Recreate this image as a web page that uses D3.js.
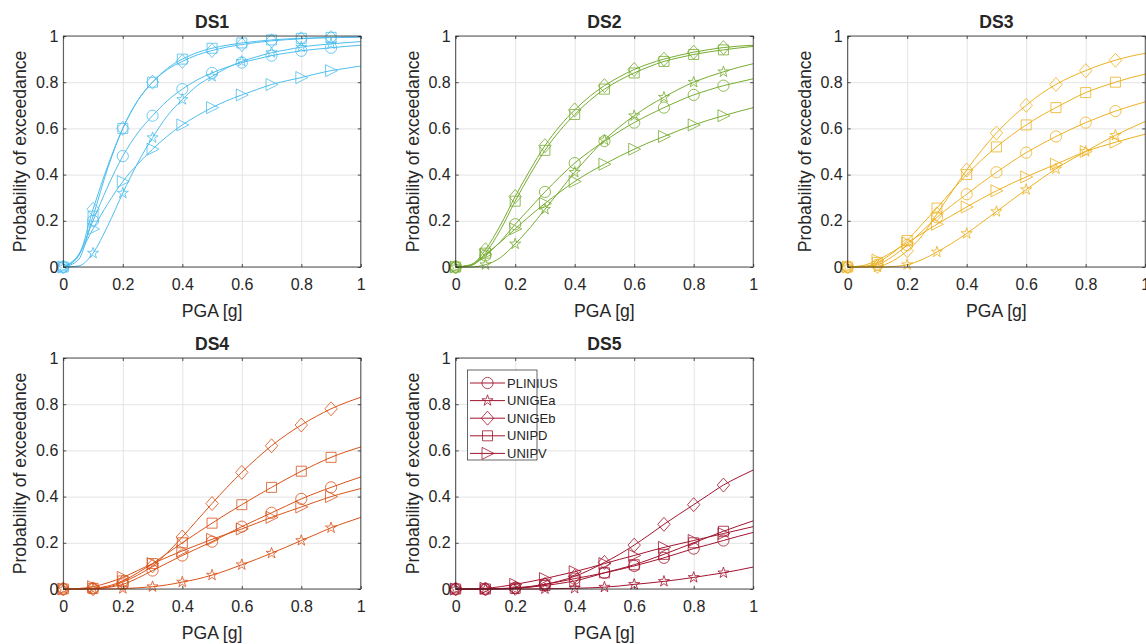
<!DOCTYPE html>
<html><head><meta charset="utf-8">
<script src="https://cdn.jsdelivr.net/npm/d3@7"></script>
<style>
body{margin:0;background:#fff}
svg{display:block}
text{font-family:"Liberation Sans",Arial,Helvetica,sans-serif;fill:#262626}
</style>
</head><body>
<svg id="chart" width="1146" height="644"></svg>
<script>
// ---------------- DATA ----------------
const pga = [0,0.05,0.1,0.15,0.2,0.25,0.3,0.35,0.4,0.45,0.5,0.55,0.6,0.65,0.7,0.75,0.8,0.85,0.9,0.95,1];
const markerPga = [0,0.1,0.2,0.3,0.4,0.5,0.6,0.7,0.8,0.9];
const axisTicks = [0,0.2,0.4,0.6,0.8,1];
const tickLabels = ["0","0.2","0.4","0.6","0.8","1"];
const models = ["PLINIUS","UNIGEa","UNIGEb","UNIPD","UNIPV"];
const dsTitles = ["DS1","DS2","DS3","DS4","DS5"];
const xLabel = "PGA [g]";
const yLabel = "Probability of exceedance";

// series in the order of `models`
const ds1 = [
  [0,0.05,0.20,0.35,0.48,0.58,0.655,0.72,0.77,0.81,0.84,0.865,0.885,0.90,0.915,0.926,0.936,0.943,0.949,0.955,0.96],
  [0,0.004,0.06,0.18,0.32,0.45,0.56,0.655,0.725,0.785,0.825,0.862,0.89,0.91,0.928,0.94,0.952,0.96,0.966,0.971,0.976],
  [0,0.045,0.25,0.44,0.60,0.72,0.80,0.855,0.89,0.918,0.937,0.952,0.963,0.972,0.979,0.984,0.988,0.991,0.993,0.994,0.995],
  [0,0.03,0.22,0.43,0.60,0.72,0.80,0.86,0.90,0.928,0.947,0.96,0.97,0.977,0.983,0.987,0.99,0.992,0.994,0.995,0.996],
  [0,0.05,0.165,0.275,0.37,0.445,0.51,0.567,0.615,0.655,0.69,0.72,0.745,0.768,0.79,0.806,0.82,0.836,0.85,0.86,0.87]
];
const ds2 = [
  [0,0.007,0.05,0.11,0.185,0.255,0.325,0.39,0.45,0.5,0.545,0.587,0.625,0.659,0.69,0.719,0.745,0.766,0.785,0.8,0.815],
  [0,0,0.01,0.04,0.1,0.17,0.25,0.33,0.41,0.483,0.55,0.606,0.655,0.698,0.735,0.77,0.8,0.824,0.845,0.864,0.88],
  [0,0.008,0.075,0.18,0.305,0.42,0.525,0.61,0.68,0.738,0.785,0.823,0.855,0.88,0.9,0.916,0.93,0.941,0.95,0.956,0.96],
  [0,0.006,0.06,0.16,0.285,0.40,0.505,0.59,0.66,0.72,0.77,0.808,0.84,0.867,0.89,0.906,0.92,0.931,0.94,0.948,0.955],
  [0,0.01,0.055,0.107,0.165,0.222,0.275,0.324,0.37,0.41,0.445,0.479,0.51,0.539,0.565,0.591,0.615,0.636,0.655,0.673,0.69]
];
const ds3 = [
  [0,0.001,0.01,0.045,0.095,0.155,0.215,0.267,0.315,0.364,0.41,0.454,0.495,0.531,0.565,0.596,0.625,0.651,0.675,0.696,0.715],
  [0,0,0,0.002,0.01,0.032,0.065,0.102,0.145,0.192,0.24,0.288,0.335,0.381,0.425,0.464,0.5,0.536,0.57,0.601,0.63],
  [0,0,0.003,0.025,0.07,0.135,0.23,0.325,0.42,0.505,0.58,0.645,0.70,0.75,0.79,0.823,0.85,0.875,0.895,0.912,0.925],
  [0,0.002,0.02,0.06,0.115,0.185,0.255,0.33,0.40,0.463,0.52,0.57,0.615,0.655,0.69,0.724,0.755,0.779,0.8,0.819,0.835],
  [0,0.006,0.03,0.065,0.105,0.145,0.185,0.223,0.26,0.296,0.33,0.361,0.39,0.418,0.445,0.473,0.5,0.521,0.54,0.558,0.575]
];
const ds4 = [
  [0,0,0.002,0.007,0.02,0.047,0.08,0.113,0.145,0.175,0.205,0.238,0.27,0.3,0.33,0.36,0.39,0.416,0.44,0.463,0.485],
  [0,0,0,0,0.002,0.005,0.01,0.018,0.03,0.043,0.06,0.081,0.105,0.129,0.155,0.182,0.21,0.237,0.265,0.288,0.31],
  [0,0,0.001,0.008,0.03,0.06,0.1,0.158,0.225,0.298,0.37,0.44,0.505,0.565,0.62,0.668,0.71,0.747,0.78,0.807,0.83],
  [0,0,0.003,0.013,0.035,0.07,0.11,0.155,0.2,0.243,0.285,0.326,0.365,0.403,0.44,0.476,0.51,0.541,0.57,0.594,0.615],
  [0,0.002,0.01,0.027,0.05,0.08,0.11,0.138,0.165,0.19,0.215,0.238,0.26,0.285,0.31,0.333,0.355,0.378,0.4,0.418,0.435]
];
const ds5 = [
  [0,0,0,0.002,0.005,0.011,0.02,0.032,0.045,0.057,0.07,0.084,0.1,0.117,0.135,0.155,0.175,0.192,0.21,0.228,0.245],
  [0,0,0,0,0,0,0.001,0.002,0.003,0.005,0.008,0.013,0.02,0.026,0.033,0.041,0.05,0.06,0.07,0.082,0.095],
  [0,0,0,0.001,0.003,0.009,0.02,0.035,0.055,0.082,0.115,0.15,0.19,0.234,0.28,0.323,0.365,0.408,0.45,0.484,0.515],
  [0,0,0,0.001,0.003,0.008,0.015,0.024,0.035,0.051,0.07,0.087,0.105,0.127,0.15,0.175,0.2,0.225,0.25,0.273,0.295],
  [0,0,0.003,0.01,0.02,0.032,0.045,0.06,0.075,0.092,0.11,0.128,0.145,0.163,0.18,0.195,0.21,0.225,0.24,0.255,0.27]
];
const dsValues = [ds1, ds2, ds3, ds4, ds5];
const dsColors = ["#4DBEEE","#77AC30","#EDB120","#D95319","#A2142F"];

// ---------------- LAYOUT / STYLE ----------------
const W = 297.5, H = 231;
const panelPos = [[63.3,36],[455.7,36],[847.7,36],[63.3,358],[455.7,358]];
const axisColor = "#262626";
const gridColor = "#e4e4e4";

const markerShapes = {
  PLINIUS: d3.symbol(d3.symbolCircle, Math.PI*5.6*5.6)(),
  UNIGEa: d3.symbol(d3.symbolStar, 38)(),
  UNIGEb: "M0,-7L6.2,0L0,7L-6.2,0Z",
  UNIPD: "M-5,-5H5V5H-5Z",
  UNIPV: "M-5.5,-6L6.5,0L-5.5,6Z"
};

const svg = d3.select("#chart");
const x = d3.scaleLinear().domain([0,1]).range([0,W]);
const y = d3.scaleLinear().domain([0,1]).range([H,0]);
const fmt = d => tickLabels[axisTicks.indexOf(d)];

const line = d3.line()
  .x((d,i) => x(pga[i]))
  .y(d => y(d))
  .curve(d3.curveMonotoneX);

dsValues.forEach((series, p) => {
  const [px, py] = panelPos[p];
  const color = dsColors[p];
  const g = svg.append("g").attr("transform", `translate(${px},${py})`);

  g.append("rect").attr("width", W).attr("height", H).attr("fill", "#fff");

  // grid
  g.append("g").attr("transform", `translate(0,${H})`)
    .call(d3.axisBottom(x).tickValues(axisTicks).tickSize(-H).tickFormat(""))
    .call(a => { a.select(".domain").remove(); a.selectAll("line").attr("stroke", gridColor).attr("stroke-width", 1); });
  g.append("g")
    .call(d3.axisLeft(y).tickValues(axisTicks).tickSize(-W).tickFormat(""))
    .call(a => { a.select(".domain").remove(); a.selectAll("line").attr("stroke", gridColor).attr("stroke-width", 1); });

  // curves
  series.forEach((vals, m) => {
    g.append("path").datum(vals)
      .attr("d", line)
      .attr("fill", "none")
      .attr("stroke", color)
      .attr("stroke-width", 1);
  });
  // markers
  series.forEach((vals, m) => {
    const pts = markerPga.map(v => ({ px: v, py: vals[pga.findIndex(t => Math.abs(t - v) < 1e-9)] }));
    g.append("g").selectAll("path").data(pts).join("path")
      .attr("d", markerShapes[models[m]])
      .attr("transform", d => `translate(${x(d.px)},${y(d.py)})`)
      .attr("fill", "none")
      .attr("stroke", color)
      .attr("stroke-width", 0.8);
  });

  // axes (ticks inward, mirrored)
  const styleAxis = a => {
    a.select(".domain").remove();
    a.selectAll("line").attr("stroke", axisColor).attr("stroke-width", 0.8);
    a.selectAll("text").attr("fill", axisColor).style("font-size", "16px")
      .style("font-family", '"Liberation Sans",Arial,sans-serif');
  };
  g.append("g").attr("transform", `translate(0,${H})`)
    .call(d3.axisBottom(x).tickValues(axisTicks).tickFormat(fmt).tickSizeInner(-3).tickSizeOuter(0).tickPadding(12))
    .call(styleAxis);
  g.append("g")
    .call(d3.axisLeft(y).tickValues(axisTicks).tickFormat(fmt).tickSizeInner(-3).tickSizeOuter(0).tickPadding(5))
    .call(styleAxis);
  g.append("g")
    .call(d3.axisTop(x).tickValues(axisTicks).tickFormat("").tickSizeInner(-3).tickSizeOuter(0))
    .call(styleAxis);
  g.append("g").attr("transform", `translate(${W},0)`)
    .call(d3.axisRight(y).tickValues(axisTicks).tickFormat("").tickSizeInner(-3).tickSizeOuter(0))
    .call(styleAxis);

  g.append("rect").attr("width", W).attr("height", H)
    .attr("fill", "none").attr("stroke", axisColor).attr("stroke-width", 0.8);

  // title & labels
  g.append("text").attr("x", W/2).attr("y", -8).attr("text-anchor", "middle")
    .style("font-size", "17.6px").style("font-weight", "bold").attr("fill", "#000").text(dsTitles[p]);
  g.append("text").attr("x", W/2).attr("y", H + 49.5).attr("text-anchor", "middle")
    .style("font-size", "17.6px").text(xLabel);
  g.append("text").attr("transform", `translate(-37,${H/2}) rotate(-90)`).attr("text-anchor", "middle")
    .style("font-size", "17.6px").text(yLabel);

  // legend (last panel)
  if (p === 4) {
    const lg = g.append("g").attr("transform", "translate(11.8,12)");
    lg.append("rect").attr("width", 69.5).attr("height", 90)
      .attr("fill", "#fff").attr("stroke", axisColor).attr("stroke-width", 0.7);
    models.forEach((name, m) => {
      const yy = 13 + m * 17.6;
      lg.append("line").attr("x1", 2.5).attr("x2", 37.5).attr("y1", yy).attr("y2", yy)
        .attr("stroke", color).attr("stroke-width", 1);
      lg.append("path").attr("d", markerShapes[name]).attr("transform", `translate(20,${yy})`)
        .attr("fill", "none").attr("stroke", color).attr("stroke-width", 0.8);
      lg.append("text").attr("x", 39.5).attr("y", yy).attr("dy", "0.36em")
        .style("font-size", "13px").text(name);
    });
  }
});
</script>
</body></html>
